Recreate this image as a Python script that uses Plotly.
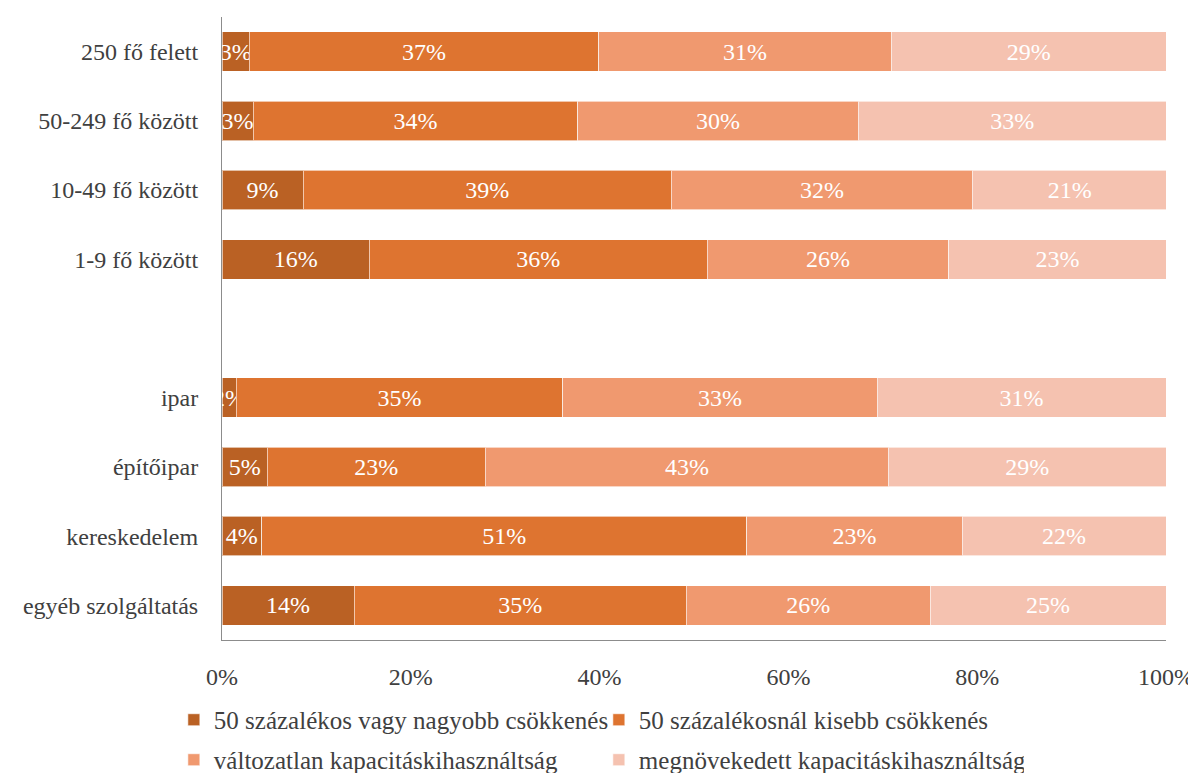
import plotly.graph_objects as go

categories = ["250 fő felett", "50-249 fő között", "10-49 fő között", "1-9 fő között", "",
              "ipar", "építőipar", "kereskedelem", "egyéb szolgáltatás"]
row_positions = [0, 1, 2, 3, 4, 5, 6, 7, 8]

series_names = ["50 százalékos vagy nagyobb csökkenés", "50 százalékosnál kisebb csökkenés",
                "változatlan kapacitáskihasználtság", "megnövekedett kapacitáskihasználtság"]
s1 = [2.9, 3.3, 8.6, 15.6, None, 1.5, 4.8, 4.2, 14.0]
s2 = [37.0, 34.4, 39.0, 35.8, None, 34.6, 23.1, 51.4, 35.2]
s3 = [31.0, 29.7, 31.9, 25.6, None, 33.3, 42.7, 22.8, 25.8]
s4 = [29.1, 32.6, 20.6, 23.0, None, 30.6, 29.4, 21.6, 25.0]
colors = ["#BA6124", "#DE7430", "#F0996F", "#F5C2B0"]
legend_ids = ["legend", "legend", "legend2", "legend2"]

x_ticks = [0, 20, 40, 60, 80, 100]
x_ticklabels = ["0%", "20%", "40%", "60%", "80%", "100%"]

FONT = "Liberation Serif"

fig = go.Figure()
for name, vals, col, lg in zip(series_names, [s1, s2, s3, s4], colors, legend_ids):
    fig.add_trace(go.Bar(
        y=row_positions, x=vals, name=name, orientation="h",
        marker=dict(color=col, line=dict(color="rgba(255,255,255,0.6)", width=1)),
        width=0.57,
        text=[("%.0f%%" % v) if v is not None else "" for v in vals],
        textposition="inside", insidetextanchor="middle", constraintext="none",
        textangle=0,
        textfont=dict(family=FONT, size=24, color="white"),
        hoverinfo="skip", legend=lg,
    ))

legend_common = dict(orientation="h", xanchor="left", yanchor="middle",
                     entrywidth=380, entrywidthmode="pixels",
                     font=dict(family=FONT, size=25, color="#404040"),
                     traceorder="normal", bgcolor="rgba(0,0,0,0)")

fig.update_layout(
    barmode="stack",
    width=1196, height=773,
    margin=dict(l=214, r=38, t=9, b=141, autoexpand=False),
    plot_bgcolor="white", paper_bgcolor="white",
    font=dict(family=FONT, size=24, color="#404040"),
    showlegend=True,
    legend=dict(x=-0.051, y=-0.1284, **legend_common),
    legend2=dict(x=-0.051, y=-0.1926, **legend_common),
    uniformtext=dict(mode=False),
)
fig.update_xaxes(range=[0, 100], tickvals=x_ticks, ticktext=x_ticklabels, automargin=False,
                 showgrid=False, zeroline=False, showline=True, linecolor="#8c8c8c",
                 linewidth=1, ticks="outside", ticklen=15, tickcolor="rgba(0,0,0,0)")
fig.update_yaxes(range=[8.5, -0.5], tickvals=row_positions, ticktext=categories, automargin=False,
                 showgrid=False, zeroline=False, showline=True, linecolor="#8c8c8c",
                 linewidth=1, ticks="outside", ticklen=18, tickcolor="rgba(0,0,0,0)")

fig.write_html("out.html")
